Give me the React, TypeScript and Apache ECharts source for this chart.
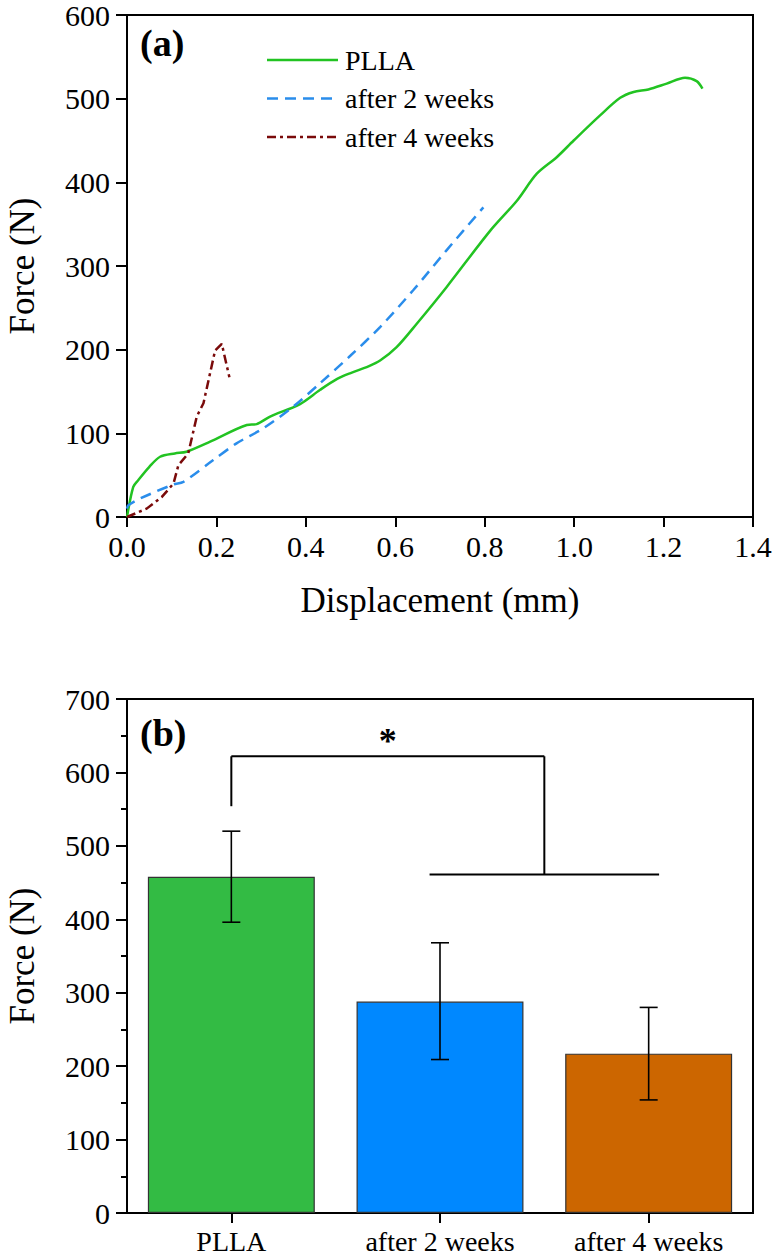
import React, { useEffect, useRef } from "react";
import * as echarts from "echarts";

// ---- Panel (a): force–displacement curves ----
const pllaDisp = [0, 0.014, 0.025, 0.05, 0.074, 0.107, 0.133, 0.186, 0.268, 0.29, 0.32, 0.387, 0.432, 0.47, 0.5, 0.54, 0.566, 0.603, 0.648, 0.715, 0.812, 0.872, 0.916, 0.961, 0.999, 1.058, 1.103, 1.133, 1.166, 1.207, 1.248, 1.274, 1.287];
const pllaForce = [0, 36, 44, 60, 72, 76, 78, 90, 110, 111, 120, 135, 152, 165, 172, 180, 187, 203, 231, 275, 342, 378, 410, 430, 450, 480, 501, 508, 511, 518, 525, 521, 512];

const week2Disp = [0, 0.003, 0.029, 0.104, 0.126, 0.193, 0.245, 0.305, 0.372, 0.432, 0.5, 0.566, 0.64, 0.715, 0.797];
const week2Force = [10, 14, 22, 39, 42, 68, 88, 106, 132, 160, 193, 227, 271, 319, 370];

const week4Disp = [0, 0.044, 0.078, 0.104, 0.115, 0.137, 0.156, 0.171, 0.197, 0.212, 0.229];
const week4Force = [0, 10, 24, 40, 62, 76, 120, 136, 199, 207, 167];

const curveNames = ["PLLA", "after 2 weeks", "after 4 weeks"];
const curveColors = ["#22C322", "#2A8DEB", "#7A0A0A"];
const curveDashes: (number[] | null)[] = [null, [11, 7], [9, 4, 3, 4]];
const xTicksA = { min: 0, max: 1.4, interval: 0.2 };
const yTicksA = { min: 0, max: 600, interval: 100 };

// ---- Panel (b): bar chart with error bars ----
const categories = ["PLLA", "after 2 weeks", "after 4 weeks"];
const meanForce = [458, 288, 217];
const errLow = [396, 209, 154];
const errHigh = [520, 368, 280];
const barColors = ["#33BB44", "#0088FF", "#CC6600"];
const yTicksB = { min: 0, max: 700, interval: 100 };

// significance bracket segments: [xIndex1, y1, xIndex2, y2] (category index units, N)
const bracketSegments = [
  [0, 554, 0, 622],
  [0, 622, 1.5, 622],
  [1.5, 622, 1.5, 461],
  [0.95, 461, 2.05, 461],
];
const starPos = [0.75, 643];

const FONT = "Liberation Serif, Times New Roman, serif";

function zip(xs: number[], ys: number[]) {
  return xs.map((x, i) => [x, ys[i]]);
}

export default function App() {
  const ref = useRef<HTMLDivElement>(null);

  useEffect(() => {
    document.body.style.margin = "0";
    const chart = echarts.init(ref.current!, null, { renderer: "svg" });

    const axisLabelStyle = { color: "#000", fontSize: 30, fontFamily: FONT };
    const nameStyle = { color: "#000", fontSize: 35, fontFamily: FONT };
    const axisLine = { show: true, lineStyle: { color: "#000", width: 2 } };
    const tick = (len: number) => ({ show: true, length: len, lineStyle: { color: "#000", width: 2 } });

    const legendGraphics: any[] = [];
    curveNames.forEach((name, i) => {
      const y = 60 + i * 38.5;
      legendGraphics.push({
        type: "line",
        shape: { x1: 267, y1: y, x2: 338, y2: y },
        style: { stroke: curveColors[i], lineWidth: 2.5, lineDash: curveDashes[i] || undefined },
      });
      legendGraphics.push({
        type: "text",
        x: 345,
        y,
        style: { text: name, fontSize: 28, fontFamily: FONT, fill: "#000", verticalAlign: "middle", align: "left" },
      });
    });

    const lineSeries = [
      zip(pllaDisp, pllaForce),
      zip(week2Disp, week2Force),
      zip(week4Disp, week4Force),
    ].map((data, i) => ({
      name: curveNames[i],
      type: "line",
      xAxisIndex: 0,
      yAxisIndex: 0,
      data,
      showSymbol: false,
      symbol: "none",
      smooth: i < 2 ? 0.3 : 0,
      lineStyle: { color: curveColors[i], width: 2.5, type: curveDashes[i] || "solid" },
      z: 3,
    }));

    const gridCommon = {
      left: 127,
      right: 20,
      show: true,
      borderColor: "#000",
      borderWidth: 2,
      backgroundColor: "transparent",
      containLabel: false,
      outerBoundsMode: "none",
    };

    const option: any = {
      animation: false,
      backgroundColor: "#fff",
      textStyle: { fontFamily: FONT },
      grid: [
        { ...gridCommon, top: 15, height: 502 },
        { ...gridCommon, top: 699, height: 514 },
      ],
      xAxis: [
        {
          gridIndex: 0,
          type: "value",
          min: xTicksA.min,
          max: xTicksA.max,
          interval: xTicksA.interval,
          name: "Displacement (mm)",
          nameLocation: "middle",
          nameGap: 66,
          nameTextStyle: nameStyle,
          axisLine,
          axisTick: tick(10),
          axisLabel: { ...axisLabelStyle, margin: 14, formatter: (v: number) => v.toFixed(1) },
          splitLine: { show: false },
        },
        {
          gridIndex: 1,
          type: "category",
          data: categories,
          axisLine,
          axisTick: { ...tick(10), alignWithLabel: true },
          axisLabel: { ...axisLabelStyle, fontSize: 28, margin: 14, interval: 0 },
          splitLine: { show: false },
        },
      ],
      yAxis: [
        {
          gridIndex: 0,
          type: "value",
          min: yTicksA.min,
          max: yTicksA.max,
          interval: yTicksA.interval,
          name: "Force (N)",
          nameLocation: "middle",
          nameGap: 87,
          nameTextStyle: nameStyle,
          axisLine,
          axisTick: tick(11),
          axisLabel: { ...axisLabelStyle, margin: 17 },
          splitLine: { show: false },
        },
        {
          gridIndex: 1,
          type: "value",
          min: yTicksB.min,
          max: yTicksB.max,
          interval: yTicksB.interval,
          name: "Force (N)",
          nameLocation: "middle",
          nameGap: 87,
          nameTextStyle: nameStyle,
          axisLine,
          axisTick: tick(11),
          minorTick: { show: true, splitNumber: 2, length: 6, lineStyle: { color: "#000", width: 2 } },
          axisLabel: { ...axisLabelStyle, margin: 17 },
          splitLine: { show: false },
          minorSplitLine: { show: false },
        },
      ],
      graphic: [
        { type: "text", x: 140, y: 43, style: { text: "(a)", fontSize: 38, fontWeight: "bold", fontFamily: FONT, fill: "#000", verticalAlign: "middle" } },
        { type: "text", x: 140, y: 733, style: { text: "(b)", fontSize: 38, fontWeight: "bold", fontFamily: FONT, fill: "#000", verticalAlign: "middle" } },
        ...legendGraphics,
      ],
      series: [
        ...lineSeries,
        {
          name: "bars",
          type: "bar",
          xAxisIndex: 1,
          yAxisIndex: 1,
          barWidth: "80%",
          data: meanForce.map((v, i) => ({
            value: v,
            itemStyle: { color: barColors[i], borderColor: "#333", borderWidth: 1.2 },
          })),
          z: 2,
        },
        {
          name: "errors",
          type: "custom",
          xAxisIndex: 1,
          yAxisIndex: 1,
          z: 5,
          data: categories.map((_, i) => [i, errLow[i], errHigh[i]]),
          renderItem: (params: any, api: any) => {
            const lo = api.coord([api.value(0), api.value(1)]);
            const hi = api.coord([api.value(0), api.value(2)]);
            const w = 9;
            const st = { stroke: "#000", lineWidth: 1.6 };
            return {
              type: "group",
              children: [
                { type: "line", shape: { x1: lo[0], y1: lo[1], x2: hi[0], y2: hi[1] }, style: st },
                { type: "line", shape: { x1: lo[0] - w, y1: lo[1], x2: lo[0] + w, y2: lo[1] }, style: st },
                { type: "line", shape: { x1: hi[0] - w, y1: hi[1], x2: hi[0] + w, y2: hi[1] }, style: st },
              ],
            };
          },
        },
        {
          name: "bracket",
          type: "custom",
          xAxisIndex: 1,
          yAxisIndex: 1,
          z: 6,
          data: bracketSegments,
          renderItem: (params: any, api: any) => {
            const toPx = (xi: number, y: number) => {
              const a = api.coord([0, y]);
              const b = api.coord([1, y]);
              return [a[0] + xi * (b[0] - a[0]), a[1]];
            };
            const p1 = toPx(api.value(0), api.value(1));
            const p2 = toPx(api.value(2), api.value(3));
            const children: any[] = [
              { type: "line", shape: { x1: p1[0], y1: p1[1], x2: p2[0], y2: p2[1] }, style: { stroke: "#000", lineWidth: 2 } },
            ];
            if (params.dataIndex === 0) {
              const s = toPx(starPos[0], starPos[1]);
              children.push({
                type: "text",
                x: s[0],
                y: s[1],
                style: { text: "*", fontSize: 36, fontWeight: "bold", fontFamily: FONT, fill: "#000", align: "center", verticalAlign: "middle" },
              });
            }
            return { type: "group", children };
          },
        },
      ],
    };

    chart.setOption(option);
    return () => chart.dispose();
  }, []);

  return <div ref={ref} style={{ width: 773, height: 1259 }} />;
}
